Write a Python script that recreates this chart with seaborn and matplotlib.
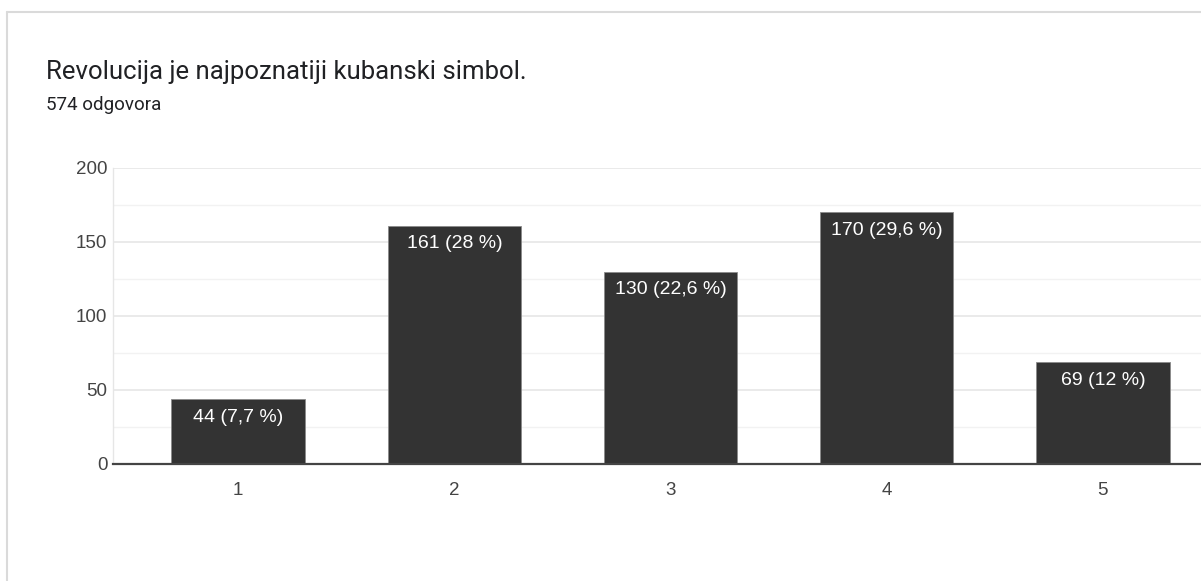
import matplotlib
matplotlib.use("Agg")
import matplotlib.pyplot as plt
import seaborn as sns
import pandas as pd

categories = ["1", "2", "3", "4", "5"]
counts = [44, 161, 130, 170, 69]
labels = ["44 (7,7 %)", "161 (28 %)", "130 (22,6 %)", "170 (29,6 %)", "69 (12 %)"]
title = "Revolucija je najpoznatiji kubanski simbol."
subtitle = "574 odgovora"

sns.set_theme(style="white")
plt.rcParams['font.family'] = ['Liberation Sans', 'DejaVu Sans']

W, H = 1201, 581
fig = plt.figure(figsize=(W / 100, H / 100), dpi=100)
fig.patch.set_facecolor("white")

# card border
fig.add_artist(plt.Line2D([7 / W, 7 / W], [0, 1 - 12 / H], color="#dadada", lw=1.5, transform=fig.transFigure))
fig.add_artist(plt.Line2D([7 / W, 1], [1 - 12 / H, 1 - 12 / H], color="#dadada", lw=1.5, transform=fig.transFigure))

left, right = 113, 1228
top, bottom = 168, 464
ax = fig.add_axes([left / W, 1 - bottom / H, (right - left) / W, (bottom - top) / H])
ax.set_facecolor("white")

df = pd.DataFrame({"cat": categories, "n": counts})
sns.barplot(data=df, x="cat", y="n", color="#333333", width=0.617, ax=ax,
            edgecolor="#8a8a8a", linewidth=0.6, saturation=1, zorder=3)

ax.set_xlim(-0.579, 4.579)
ax.set_ylim(0, 200)
ax.set_yticks([0, 50, 100, 150, 200])
ax.set_yticks([25, 75, 125, 175], minor=True)
ax.grid(axis="y", which="major", color="#e6e6e6", lw=1.2, zorder=0)
ax.grid(axis="y", which="minor", color="#f2f2f2", lw=1.0, zorder=0)
ax.set_axisbelow(True)
ax.set_xlabel("")
ax.set_ylabel("")
for s in ["top", "right"]:
    ax.spines[s].set_visible(False)
ax.spines["left"].set_color("#e6e6e6")
ax.spines["left"].set_linewidth(1.0)
ax.spines["bottom"].set_color("#444444")
ax.spines["bottom"].set_linewidth(1.6)
ax.spines["bottom"].set_zorder(4)
ax.tick_params(axis="both", which="both", length=0, labelsize=13.5, labelcolor="#444444")
ax.tick_params(axis="y", pad=4)
ax.tick_params(axis="x", pad=13)

for i, (v, lab) in enumerate(zip(counts, labels)):
    ax.annotate(lab, (i, v), xytext=(0, -7), textcoords="offset points",
                ha="center", va="top", color="white", fontsize=14, zorder=5)

fig.text(46 / W, 1 - 72 / H, title, fontsize=18.5, color="#202124", va="center", ha="left",
         family=["Roboto", "DejaVu Sans"])
fig.text(46 / W, 1 - 105 / H, subtitle, fontsize=13.5, color="#202124", va="center", ha="left",
         family=["Roboto", "DejaVu Sans"])

fig.savefig("out.png", dpi=100)
